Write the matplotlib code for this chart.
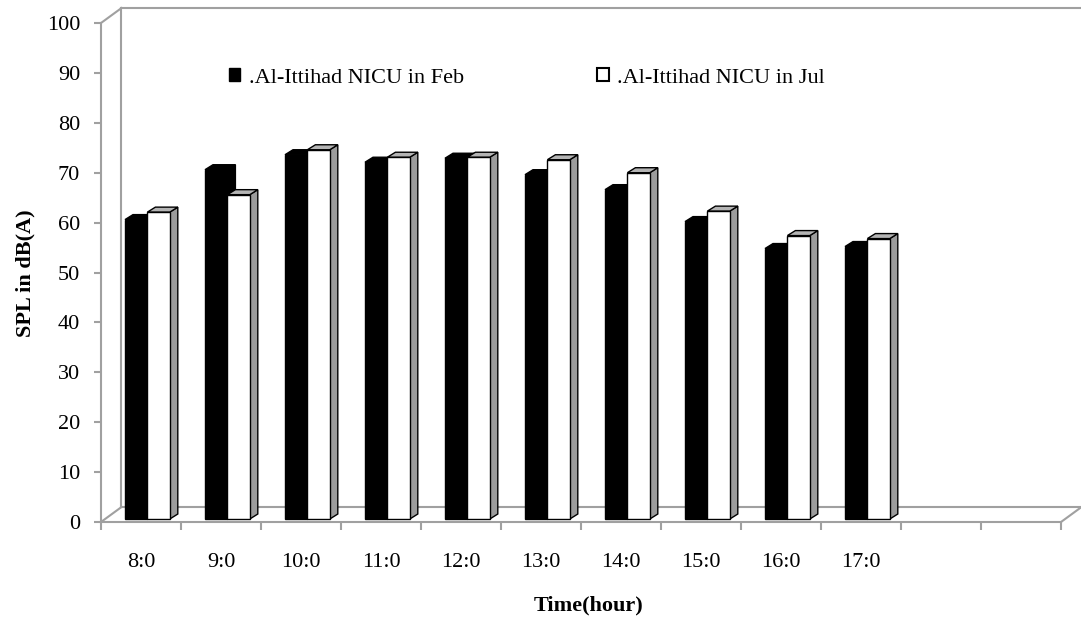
import numpy as np
import matplotlib.pyplot as plt
from matplotlib.patches import Patch

# data
hours = ['8:0', '9:0', '10:0', '11:0', '12:0', '13:0', '14:0', '15:0', '16:0', '17:0', '', '']
feb = [60.0, 70.0, 73.0, 71.5, 72.3, 69.0, 66.0, 59.6, 54.2, 54.6]
jul = [61.5, 65.0, 74.0, 72.5, 72.5, 72.0, 69.4, 61.7, 56.8, 56.2]
y_ticks = list(range(0, 101, 10))

plt.rcParams['font.family'] = ['Liberation Serif', 'DejaVu Serif']
fs = 16

W, H = 1081, 623
fig = plt.figure(figsize=(W / 100, H / 100), dpi=100)
ax = fig.add_axes([101 / W, 101 / H, 960 / W, 499 / H])

n_slots = len(hours)
ax.set_xlim(-0.5, n_slots - 0.5)
ax.set_ylim(0, 100)

grey = '#a0a0a0'
DX, DY = 0.256, 3.0        # depth of the 3d box (data units)
bdx, bdy = 0.1, 1.0        # depth of each bar
base = 0.6                 # bars sit a bit back in the box
bw = 0.28

# --- box (floor + back wall) ---
x0, x1 = -0.5, n_slots - 0.5
box_kw = dict(color=grey, lw=1.5, clip_on=False, zorder=1)
ax.plot([x0 + DX, x0 + DX], [DY, 100 + DY], **box_kw)
ax.plot([x0, x0 + DX], [100, 100 + DY], **box_kw)
ax.plot([x0, x0 + DX], [0, DY], **box_kw)
ax.plot([x0 + DX, x1 + DX], [100 + DY, 100 + DY], **box_kw)
ax.plot([x0 + DX, x1 + DX], [DY, DY], **box_kw)
ax.plot([x1, x1 + DX], [0, DY], **box_kw)

# --- bars ---
idx = np.arange(len(feb))
xb = idx - 0.2
xw = xb + bw

def faces(x, v, top, side, z):
    # side face then top face, the front face comes from ax.bar
    for xi, vi in zip(x, v):
        xr = xi + bw
        ax.fill([xr, xr + bdx, xr + bdx, xr], [base, base + bdy, base + vi + bdy, base + vi],
                facecolor=side, edgecolor='black', lw=1.0, zorder=z, clip_on=False)
        ax.fill([xi, xr, xr + bdx, xi + bdx], [base + vi, base + vi, base + vi + bdy, base + vi + bdy],
                facecolor=top, edgecolor='black', lw=1.0, zorder=z, clip_on=False)

faces(xb, feb, 'black', 'black', 2)
ax.bar(xb, feb, width=bw, bottom=base, align='edge', color='black', edgecolor='black', lw=1.0, zorder=3)
faces(xw, jul, '#b4b4b4', '#9c9c9c', 4)
ax.bar(xw, jul, width=bw, bottom=base, align='edge', color='white', edgecolor='black', lw=1.0, zorder=5)

# --- axes ---
for s in ['top', 'right']:
    ax.spines[s].set_visible(False)
for s in ['left', 'bottom']:
    ax.spines[s].set_color(grey)
    ax.spines[s].set_linewidth(1.5)
    ax.spines[s].set_zorder(0.5)

ax.set_yticks(y_ticks)
ax.tick_params(axis='y', direction='out', length=5, width=1.5, color=grey, labelsize=fs, pad=10)

ax.set_xticks(np.arange(-0.5, n_slots, 1.0))
ax.set_xticklabels([])
ax.set_xticks(np.arange(n_slots), minor=True)
ax.set_xticklabels(hours, minor=True)
ax.tick_params(axis='x', which='major', direction='out', length=6, width=1.5, color=grey)
ax.tick_params(axis='x', which='minor', length=0, labelsize=fs, pad=22)

fig.text(25 / W, 1 - 273 / H, 'SPL in dB(A)', rotation=90, fontsize=fs, fontweight='bold',
         ha='center', va='center')
fig.text(589 / W, 1 - 605 / H, 'Time(hour)', fontsize=fs, fontweight='bold', ha='center', va='center')

handles = [Patch(facecolor='black', edgecolor='black'),
           Patch(facecolor='white', edgecolor='black', lw=1.5)]
fig.legend(handles, ['.Al-Ittihad NICU in Feb', '.Al-Ittihad NICU in Jul'],
           loc='center left', bbox_to_anchor=(229 / W, 1 - 78 / H), ncol=2, frameon=False,
           fontsize=fs, handlelength=0.5, handleheight=0.5, handletextpad=0.4,
           columnspacing=6.0, borderpad=0, borderaxespad=0)

fig.savefig('out.png', dpi=100)
